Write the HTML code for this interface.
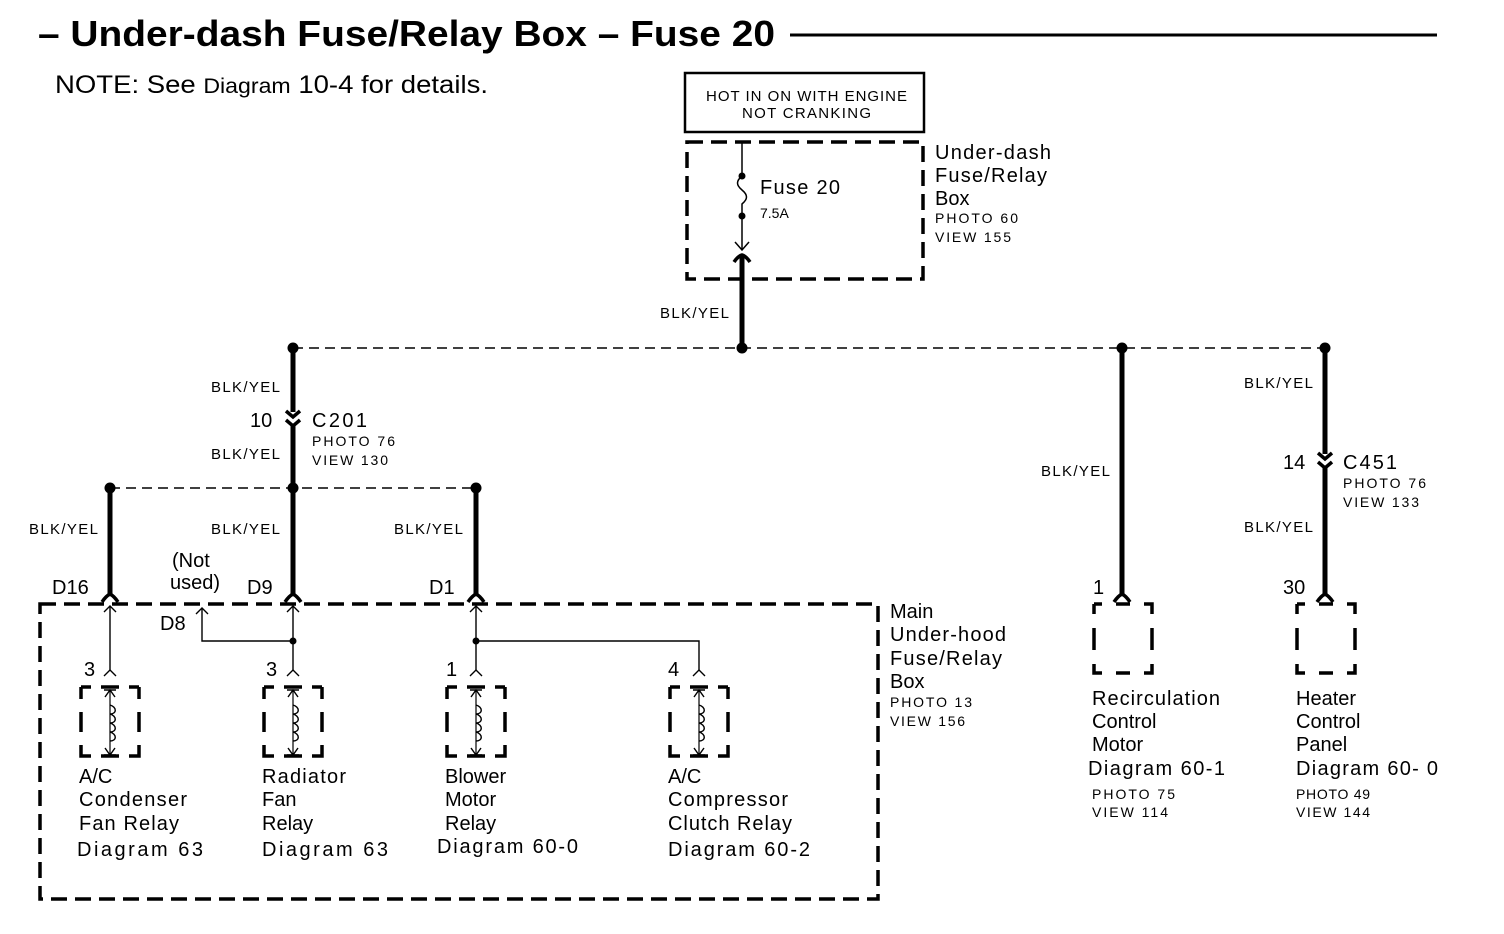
<!DOCTYPE html>
<html><head><meta charset="utf-8"><style>
html,body{margin:0;padding:0;background:#fff}
svg{display:block;font-family:"Liberation Sans",Arial,sans-serif}
</style></head><body>
<svg width="1504" height="934" viewBox="0 0 1504 934" xmlns="http://www.w3.org/2000/svg">
<defs>
<g id="relay">
 <path d="M0,0 h10 M20,0 h18 M48,0 h10 M0,0 v12 M0,25 v20 M0,58 v11 h10 M20,69 h18 M48,69 h10 v-11 M58,45 v-20 M58,12 v-12" stroke="#000" stroke-width="3.5" fill="none"/>
 <line x1="29" y1="3" x2="29" y2="68" stroke="#000" stroke-width="1.2"/>
 <path d="M23,3 h12 M24,10 l5,-7 l5,7 M23,68 h12 M24,61 l5,7 l5,-7" stroke="#000" stroke-width="1.4" fill="none"/>
 <path d="M29,18 c7,2 7,9 0,9 c7,2 7,9 0,9 c7,2 7,9 0,9 c7,2 7,9 0,9" stroke="#000" stroke-width="1.4" fill="none"/>
</g>
<g id="fem"><path d="M-8,2 Q-4,-4 0,-6 Q4,-4 8,2" stroke="#000" stroke-width="3.5" fill="none"/></g>
<g id="male"><path d="M-6,6 L0,0 L6,6" stroke="#000" stroke-width="1.4" fill="none"/></g>
<g id="inline"><path d="M-7,-9 L0,-3 L7,-9 M-7,0 L0,6 L7,0" stroke="#000" stroke-width="3.5" fill="none"/></g>
<g id="box"><path d="M0,0 h8 M22,0 h14 M50,0 h8 v10 M58,24 v22 M58,60 v9 h-8 M36,69 h-14 M8,69 h-8 v-9 M0,46 v-22 M0,10 v-10" stroke="#000" stroke-width="3.5" fill="none"/></g>
</defs>

<text x="38" y="46" font-size="36" font-weight="bold" textLength="737" lengthAdjust="spacingAndGlyphs">– Under-dash Fuse/Relay Box – Fuse 20</text>
<line x1="790" y1="35" x2="1437" y2="35" stroke="#000" stroke-width="3"/>
<text x="55" y="93" font-size="25" textLength="433" lengthAdjust="spacingAndGlyphs">NOTE: See <tspan font-size="21">Diagram</tspan> 10-4 for details.</text>

<rect x="685" y="73" width="239" height="59" fill="none" stroke="#000" stroke-width="2.5"/>
<text x="706" y="101" font-size="15" textLength="201">HOT IN ON WITH ENGINE</text>
<text x="742" y="118" font-size="15" textLength="129">NOT CRANKING</text>

<rect x="687" y="142" width="236" height="137" fill="none" stroke="#000" stroke-width="3.5" stroke-dasharray="16,8"/>
<line x1="742" y1="142" x2="742" y2="176" stroke="#000" stroke-width="1.5"/>
<circle cx="742" cy="176" r="3.5"/>
<path d="M742,176 c-6,5 -6,9 0,14 c6,5 6,9 0,14 v12" stroke="#000" stroke-width="1.5" fill="none"/>
<circle cx="742" cy="216" r="3.5"/>
<line x1="742" y1="216" x2="742" y2="250" stroke="#000" stroke-width="1.5"/>
<path d="M735,242 L742,250 L749,242" stroke="#000" stroke-width="1.5" fill="none"/>
<path d="M734,262 Q738,256 742,255 Q746,256 750,262" stroke="#000" stroke-width="3.5" fill="none"/>
<line x1="742" y1="256" x2="742" y2="348" stroke="#000" stroke-width="5"/>
<text x="760" y="194" font-size="20" textLength="80">Fuse 20</text>
<text x="760" y="218" font-size="14">7.5A</text>
<g font-size="20">
<text x="935" y="159" textLength="116">Under-dash</text>
<text x="935" y="182" textLength="112">Fuse/Relay</text>
<text x="935" y="205">Box</text>
</g>
<text x="935" y="223" font-size="14" textLength="83">PHOTO 60</text>
<text x="935" y="242" font-size="14" textLength="76">VIEW 155</text>
<text x="660" y="318" font-size="15" textLength="69">BLK/YEL</text>

<line x1="293" y1="348" x2="1325" y2="348" stroke="#000" stroke-width="1.5" stroke-dasharray="10,6"/>
<circle cx="293" cy="348" r="5.5"/><circle cx="742" cy="348" r="5.5"/><circle cx="1122" cy="348" r="5.5"/><circle cx="1325" cy="348" r="5.5"/>

<line x1="293" y1="348" x2="293" y2="412" stroke="#000" stroke-width="5"/>
<use href="#inline" x="293" y="420"/>
<line x1="293" y1="424" x2="293" y2="488" stroke="#000" stroke-width="5"/>
<g font-size="15">
<text x="211" y="392" textLength="69">BLK/YEL</text>
<text x="211" y="459" textLength="69">BLK/YEL</text>
<text x="29" y="534" textLength="69">BLK/YEL</text>
<text x="211" y="534" textLength="69">BLK/YEL</text>
<text x="394" y="534" textLength="69">BLK/YEL</text>
<text x="1041" y="476" textLength="69">BLK/YEL</text>
<text x="1244" y="388" textLength="69">BLK/YEL</text>
<text x="1244" y="532" textLength="69">BLK/YEL</text>
</g>
<text x="250" y="427" font-size="20">10</text>
<text x="312" y="427" font-size="20" textLength="55">C201</text>
<text x="312" y="446" font-size="14" textLength="83">PHOTO 76</text>
<text x="312" y="465" font-size="14" textLength="76">VIEW 130</text>

<line x1="110" y1="488" x2="476" y2="488" stroke="#000" stroke-width="1.5" stroke-dasharray="10,6"/>
<circle cx="110" cy="488" r="5.5"/><circle cx="293" cy="488" r="5.5"/><circle cx="476" cy="488" r="5.5"/>
<line x1="110" y1="488" x2="110" y2="595" stroke="#000" stroke-width="5"/>
<line x1="293" y1="488" x2="293" y2="595" stroke="#000" stroke-width="5"/>
<line x1="476" y1="488" x2="476" y2="595" stroke="#000" stroke-width="5"/>
<use href="#fem" x="110" y="600"/><use href="#fem" x="293" y="600"/><use href="#fem" x="476" y="600"/>
<g font-size="20">
<text x="52" y="594">D16</text>
<text x="247" y="594">D9</text>
<text x="429" y="594">D1</text>
<text x="172" y="567">(Not</text>
<text x="170" y="589">used)</text>
</g>

<rect x="40" y="604" width="838" height="295" fill="none" stroke="#000" stroke-width="3.5" stroke-dasharray="16,8"/>
<g stroke="#000" stroke-width="1.4" fill="none">
<line x1="110" y1="606" x2="110" y2="670"/>
<line x1="293" y1="606" x2="293" y2="670"/>
<line x1="476" y1="606" x2="476" y2="670"/>
<path d="M202,608 V641 H293"/>
<path d="M476,641 H699 V670"/>
</g>
<circle cx="293" cy="641" r="3.5"/><circle cx="476" cy="641" r="3.5"/>
<use href="#male" x="110" y="606"/><use href="#male" x="293" y="606"/><use href="#male" x="476" y="606"/><use href="#male" x="202" y="608"/>
<use href="#male" x="110" y="670"/><use href="#male" x="293" y="670"/><use href="#male" x="476" y="670"/><use href="#male" x="699" y="670"/>
<text x="160" y="630" font-size="20">D8</text>
<text x="84" y="676" font-size="20">3</text>
<text x="266" y="676" font-size="20">3</text>
<text x="446" y="676" font-size="20">1</text>
<text x="668" y="676" font-size="20">4</text>
<use href="#relay" x="81" y="687"/>
<use href="#relay" x="264" y="687"/>
<use href="#relay" x="447" y="687"/>
<use href="#relay" x="670" y="687"/>
<g font-size="20">
<text x="79" y="783">A/C</text><text x="79" y="806" textLength="108">Condenser</text><text x="79" y="830" textLength="100">Fan Relay</text><text x="77" y="856" textLength="126">Diagram  63</text>
<text x="262" y="783" textLength="84">Radiator</text><text x="262" y="806">Fan</text><text x="262" y="830">Relay</text><text x="262" y="856" textLength="126">Diagram  63</text>
<text x="445" y="783">Blower</text><text x="445" y="806">Motor</text><text x="445" y="830">Relay</text><text x="437" y="853" textLength="141">Diagram 60-0</text>
<text x="668" y="783">A/C</text><text x="668" y="806" textLength="120">Compressor</text><text x="668" y="830" textLength="124">Clutch Relay</text><text x="668" y="856" textLength="142">Diagram 60-2</text>
<text x="890" y="618">Main</text><text x="890" y="641" textLength="116">Under-hood</text><text x="890" y="665" textLength="112">Fuse/Relay</text><text x="890" y="688">Box</text>
</g>
<text x="890" y="707" font-size="14" textLength="82">PHOTO 13</text>
<text x="890" y="726" font-size="14" textLength="75">VIEW 156</text>

<line x1="1122" y1="348" x2="1122" y2="595" stroke="#000" stroke-width="5"/>
<use href="#fem" x="1122" y="600"/>
<text x="1093" y="594" font-size="20">1</text>
<use href="#box" x="1094" y="604"/>
<g font-size="20"><text x="1092" y="705" textLength="128">Recirculation</text><text x="1092" y="728">Control</text><text x="1092" y="751">Motor</text><text x="1088" y="775" textLength="137">Diagram 60-1</text></g>
<text x="1092" y="799" font-size="14" textLength="83">PHOTO 75</text>
<text x="1092" y="817" font-size="14" textLength="76">VIEW 114</text>

<line x1="1325" y1="348" x2="1325" y2="454" stroke="#000" stroke-width="5"/>
<use href="#inline" x="1325" y="462"/>
<line x1="1325" y1="466" x2="1325" y2="595" stroke="#000" stroke-width="5"/>
<use href="#fem" x="1325" y="600"/>
<text x="1283" y="469" font-size="20">14</text>
<text x="1343" y="469" font-size="20" textLength="54">C451</text>
<text x="1343" y="488" font-size="14" textLength="83">PHOTO 76</text>
<text x="1343" y="507" font-size="14" textLength="76">VIEW 133</text>
<text x="1283" y="594" font-size="20">30</text>
<use href="#box" x="1297" y="604"/>
<g font-size="20"><text x="1296" y="705">Heater</text><text x="1296" y="728">Control</text><text x="1296" y="751">Panel</text><text x="1296" y="775" textLength="142">Diagram 60- 0</text></g>
<text x="1296" y="799" font-size="14" textLength="74">PHOTO 49</text>
<text x="1296" y="817" font-size="14" textLength="74">VIEW 144</text>
</svg>
</body></html>
